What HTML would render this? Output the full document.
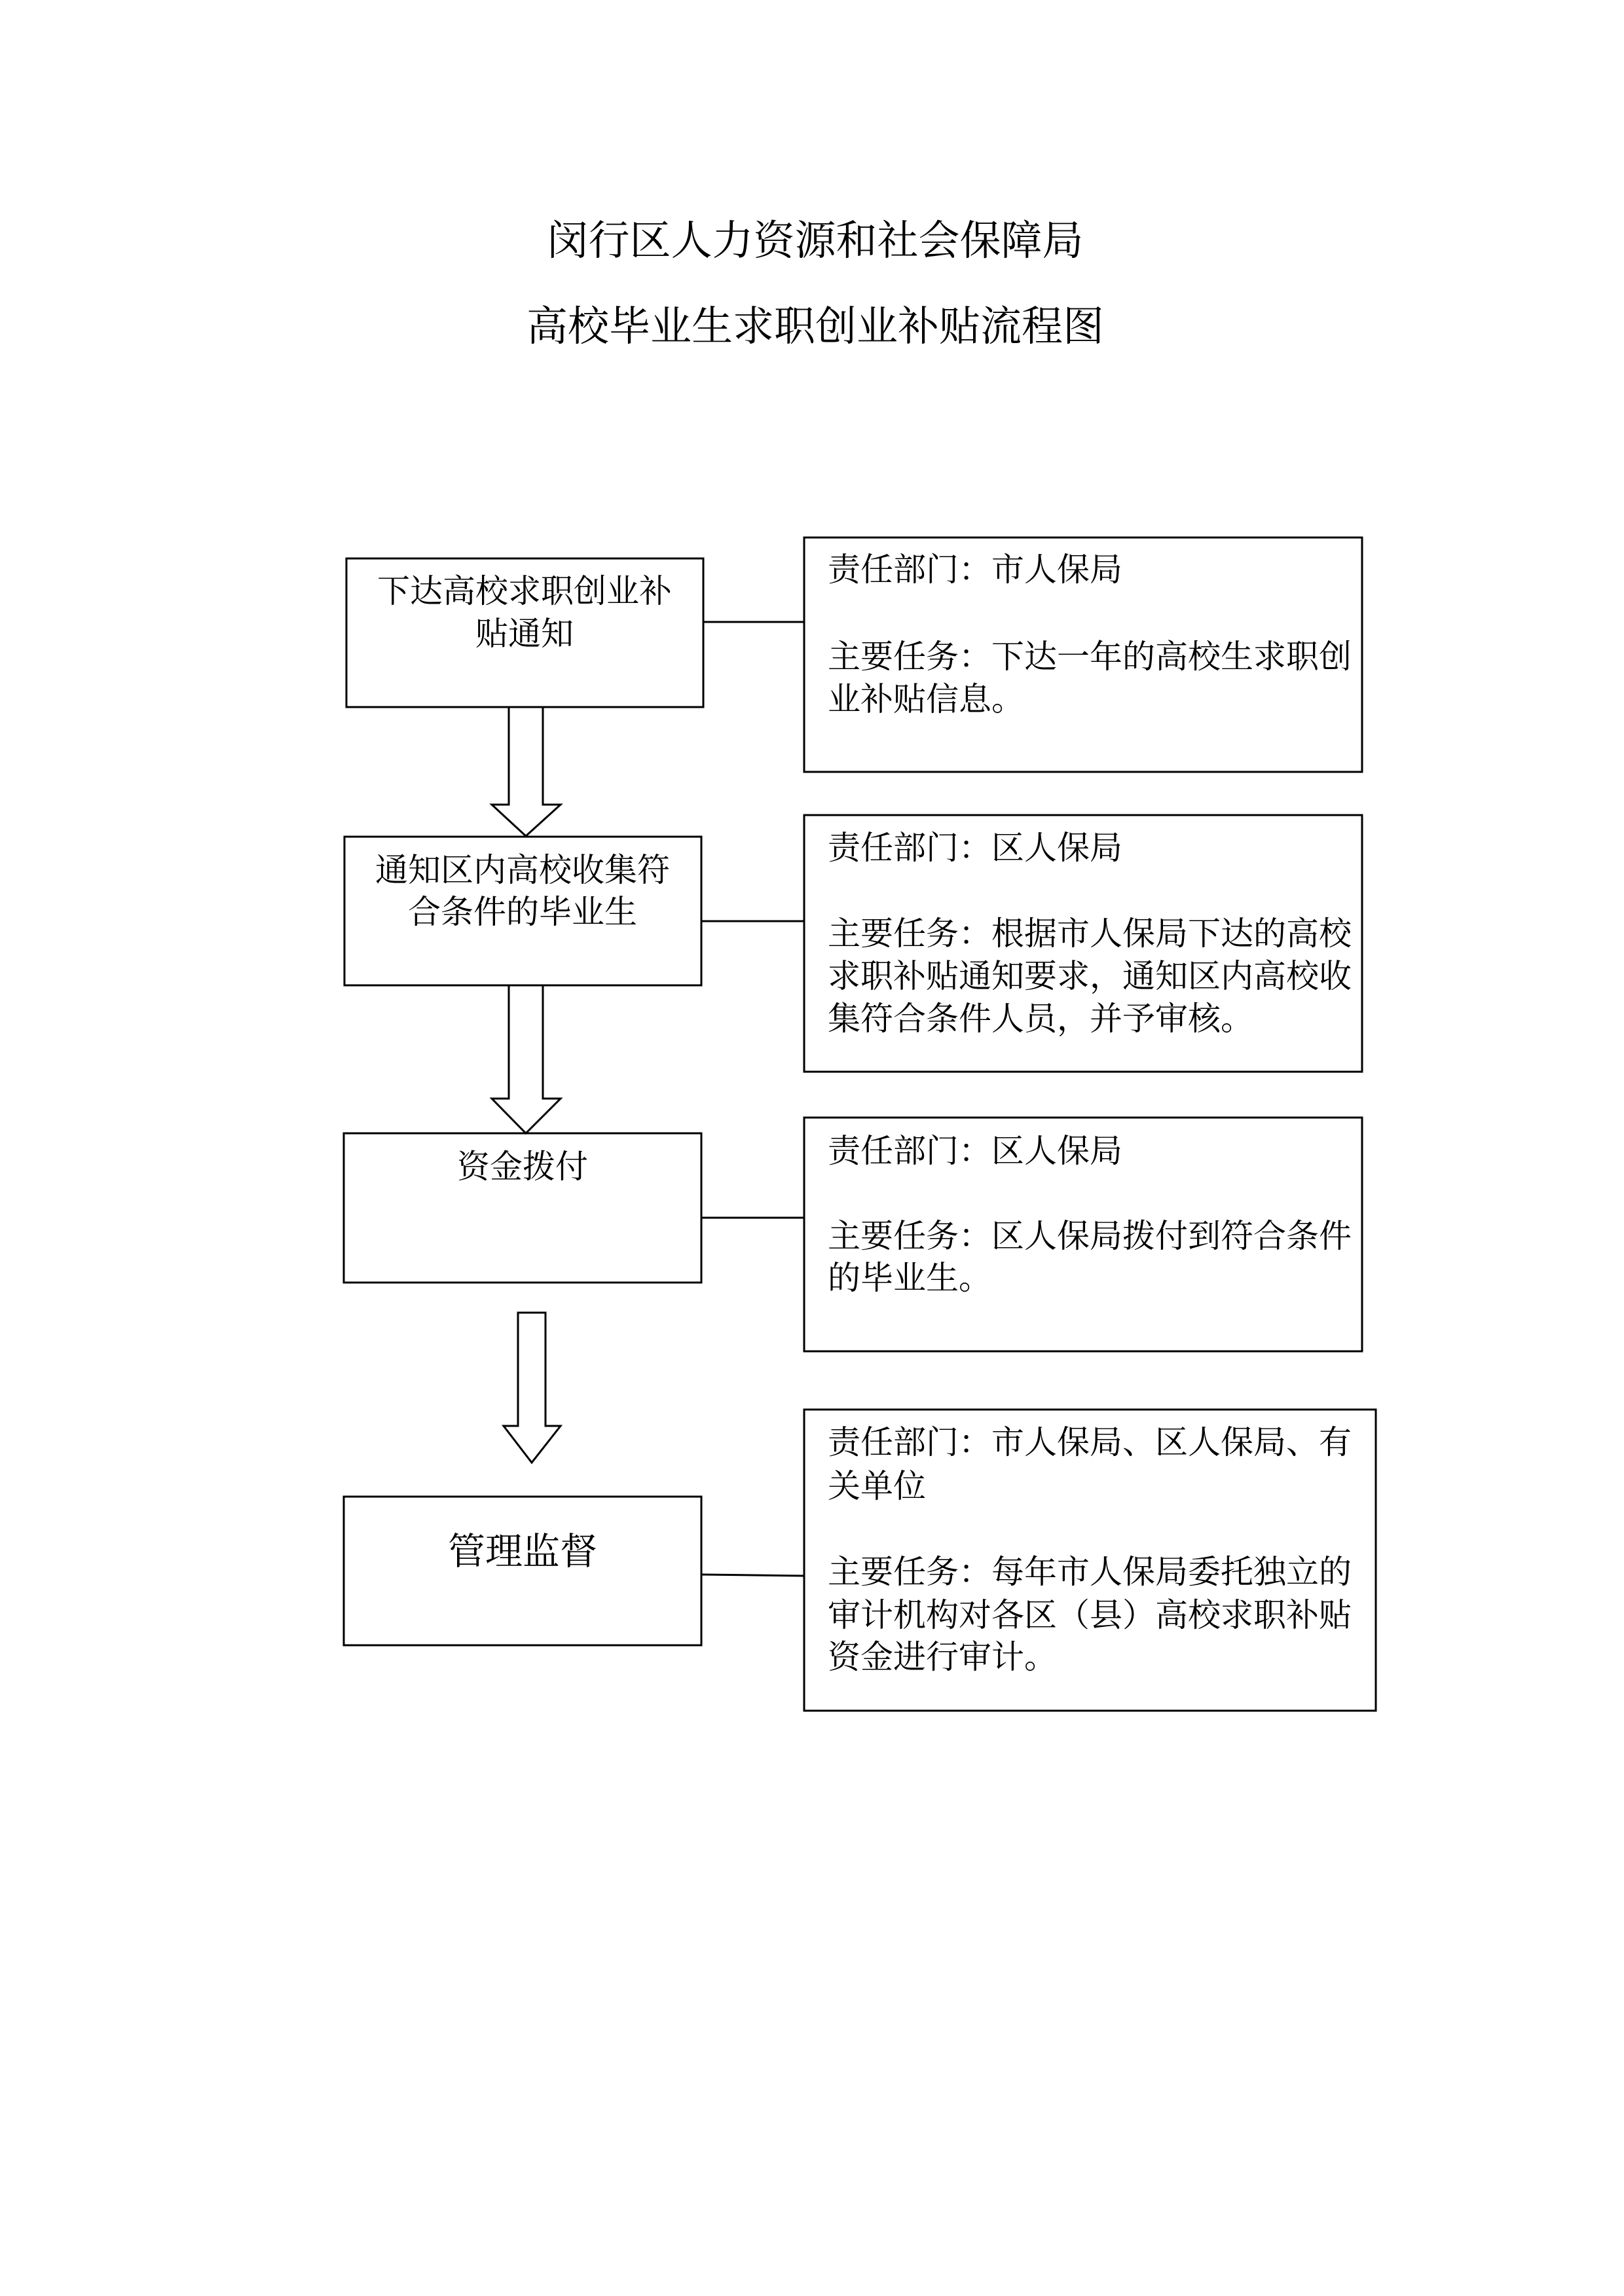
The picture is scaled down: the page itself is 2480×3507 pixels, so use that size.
<!DOCTYPE html>
<html><head><meta charset="utf-8"><style>
html,body{margin:0;padding:0;background:#fff;}
svg{display:block;}
text{font-family:"Liberation Serif","Noto Serif CJK SC",serif;fill:#000;}
</style></head><body>
<svg width="2480" height="3507" viewBox="0 0 2480 3507" xmlns="http://www.w3.org/2000/svg">
<rect width="2480" height="3507" fill="#fff"/>
<g font-size="63" text-anchor="middle">
<text x="1245" y="389">闵行区人力资源和社会保障局</text>
<text x="1245" y="520">高校毕业生求职创业补贴流程图</text>
</g>
<g fill="none" stroke="#000" stroke-width="3">
<rect x="529" y="853" width="545" height="227"/>
<rect x="526" y="1278" width="545" height="227"/>
<rect x="525" y="1731" width="546" height="228"/>
<rect x="525" y="2286" width="546" height="227"/>
<rect x="1228" y="821" width="852" height="358"/>
<rect x="1228" y="1245" width="852" height="392"/>
<rect x="1228" y="1707" width="852" height="357"/>
<rect x="1228" y="2153" width="873" height="460"/>
<line x1="1074" y1="950" x2="1228" y2="950"/>
<line x1="1071" y1="1407" x2="1228" y2="1407"/>
<line x1="1071" y1="1860" x2="1228" y2="1860"/>
<line x1="1071" y1="2405" x2="1228" y2="2407"/>
<polygon points="777,1080 829,1080 829,1229 856,1229 803,1277 751,1229 777,1229"/>
<polygon points="777,1505 829,1505 829,1678 856,1678 803,1731 751,1678 777,1678"/>
<polygon points="791,2005 833,2005 833,2178 856,2178 812,2234 769,2178 791,2178"/>
</g>
<g font-size="50" text-anchor="middle">
<text x="801" y="920">下达高校求职创业补</text>
<text x="801" y="985">贴通知</text>
<text x="798" y="1346">通知区内高校收集符</text>
<text x="798" y="1410">合条件的毕业生</text>
<text x="798" y="1799">资金拨付</text>
<text x="798" y="2389" font-size="57">管理监督</text>
</g>
<g font-size="50">
<text x="1264" y="887">责任部门：市人保局</text>
<text x="1264" y="1020">主要任务：下达一年的高校生求职创</text>
<text x="1264" y="1085">业补贴信息。</text>
<text x="1264" y="1312">责任部门：区人保局</text>
<text x="1264" y="1443">主要任务：根据市人保局下达的高校</text>
<text x="1264" y="1508">求职补贴通知要求，通知区内高校收</text>
<text x="1264" y="1573">集符合条件人员，并予审核。</text>
<text x="1264" y="1775">责任部门：区人保局</text>
<text x="1264" y="1905">主要任务：区人保局拨付到符合条件</text>
<text x="1264" y="1969">的毕业生。</text>
<text x="1264" y="2220">责任部门：市人保局、区人保局、有</text>
<text x="1264" y="2287">关单位</text>
<text x="1264" y="2418">主要任务：每年市人保局委托独立的</text>
<text x="1264" y="2484">审计机构对各区（县）高校求职补贴</text>
<text x="1264" y="2548">资金进行审计。</text>
</g>
</svg>
</body></html>
